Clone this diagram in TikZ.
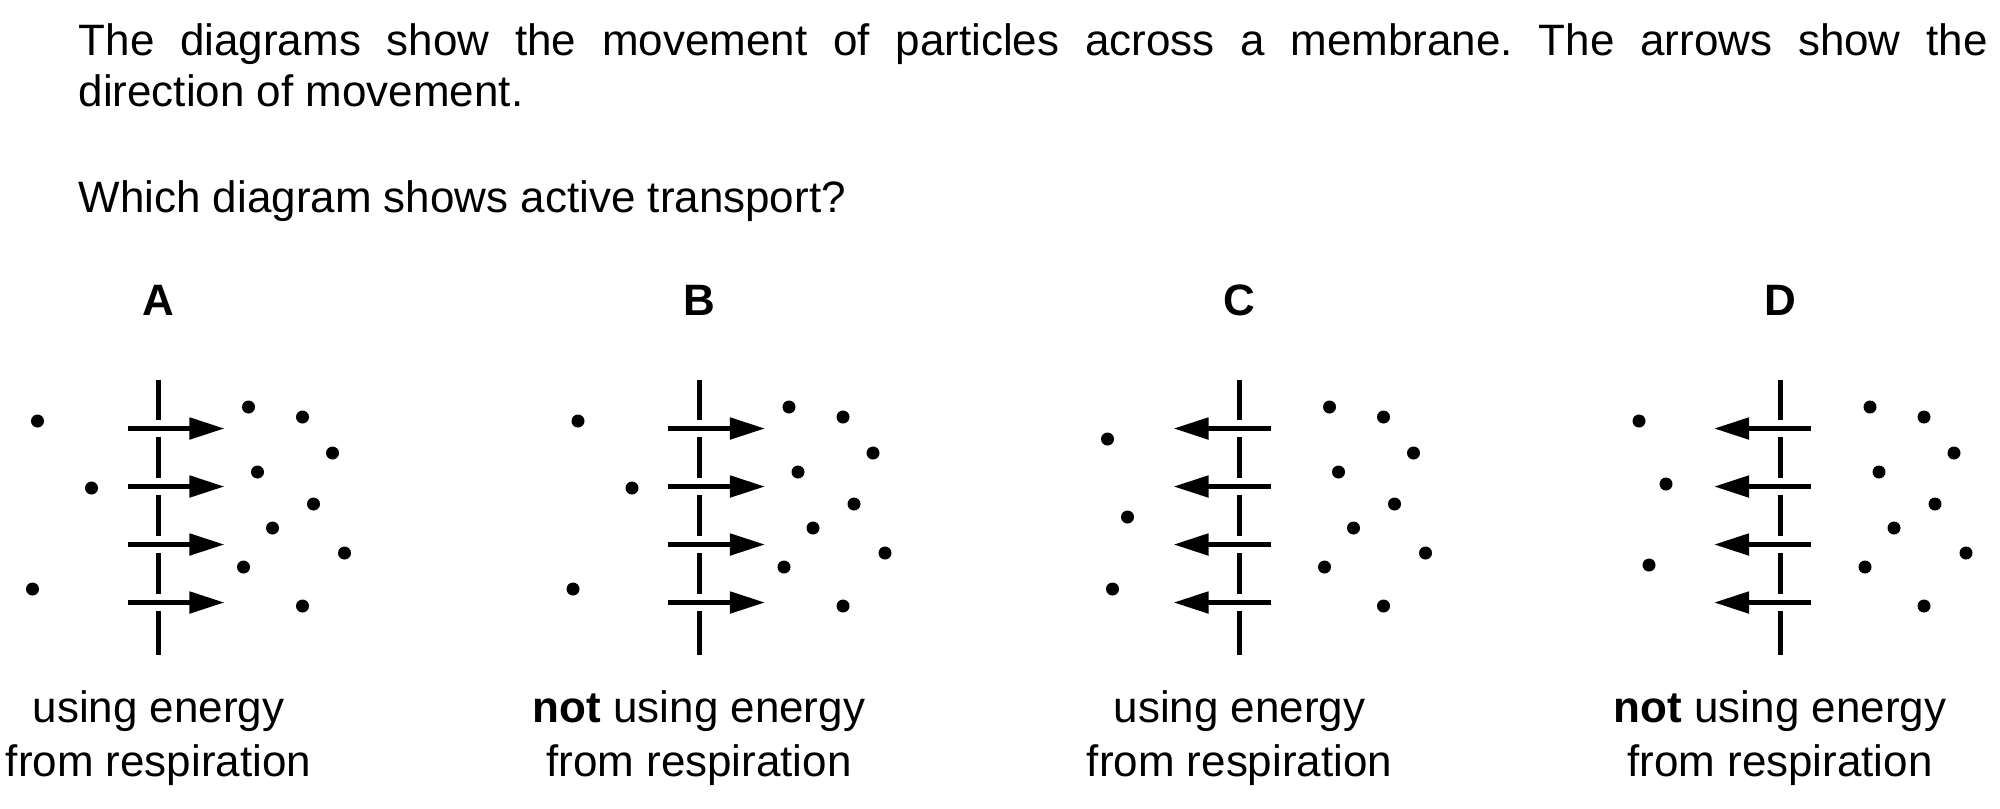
\documentclass[tikz,border=0pt]{standalone}
\usepackage{fontspec}
\setmainfont{Liberation Sans}
\usetikzlibrary{arrows.meta,positioning}
\frenchspacing

\begin{document}
\begin{tikzpicture}[
x=0.01cm, y=-0.01cm,
txt/.style={inner sep=0pt, font=\fontsize{12.5pt}{14.75pt}\selectfont},
letter/.style={inner sep=0pt, anchor=base, font=\fontsize{12.5pt}{14.75pt}\selectfont\bfseries},
caption/.style={inner sep=0pt, anchor=base, align=center, font=\fontsize{12.5pt}{15.3pt}\selectfont},
membrane/.style={line width=0.05cm},
flow/.style={line width=0.05cm, -{Triangle[length=0.35cm,width=0.21cm]}},
particle/.style={circle, fill=black, inner sep=0pt, minimum size=0.13cm}]
\useasboundingbox (0,0) rectangle (2000,808);
% Text
\node[txt, anchor=base west, text width=19.08cm, align=justify] (intro) at (78,55)
  {The diagrams show the movement of particles across a membrane. The arrows show the\linebreak direction of movement.};
\node[txt, anchor=base west] (question) at (78,212) {Which diagram shows active transport?};
% Nodes
\node[letter] (lblA) at (158.5,315) {A};
\node[letter] (lblB) at (699,315) {B};
\node[letter] (lblC) at (1239.5,315) {C};
\node[letter] (lblD) at (1780,315) {D};
\node[caption] (capA) at (158.5,776) {using energy\\from respiration};
\node[caption] (capB) at (699,776) {\textbf{not} using energy\\from respiration};
\node[caption] (capC) at (1239.5,776) {using energy\\from respiration};
\node[caption] (capD) at (1780,776) {\textbf{not} using energy\\from respiration};
% Membranes and arrows
\foreach \m/\d in {158.5/1, 699/1, 1239.5/-1, 1780/-1} {
  \foreach \a/\b in {380/420, 437/478, 495/536, 553/594, 611/655}
    \draw[membrane] (\m,\a) -- (\m,\b);
  \foreach \y in {428.5, 486.5, 544.5, 602.5}
    \draw[flow] (\m-31*\d,\y) -- (\m+66*\d,\y);
  % particles on the right
  \foreach \px/\py in {90/407, 144/417, 174/453, 99/472, 155/504, 114/528, 186/553, 85/567, 144/606}
    \node[particle] at (\m+\px,\py) {};
}
% particles on the left
\foreach \px/\py in {-121/421, -67/488, -126/589}
  \node[particle] at (158.5+\px,\py) {};
\foreach \px/\py in {-121/421, -67/488, -126/589}
  \node[particle] at (699+\px,\py) {};
\foreach \px/\py in {-132/439, -112/517, -127/589}
  \node[particle] at (1239.5+\px,\py) {};
\foreach \px/\py in {-141/421, -114/484, -131/565}
  \node[particle] at (1780+\px,\py) {};
\end{tikzpicture}
\end{document}
